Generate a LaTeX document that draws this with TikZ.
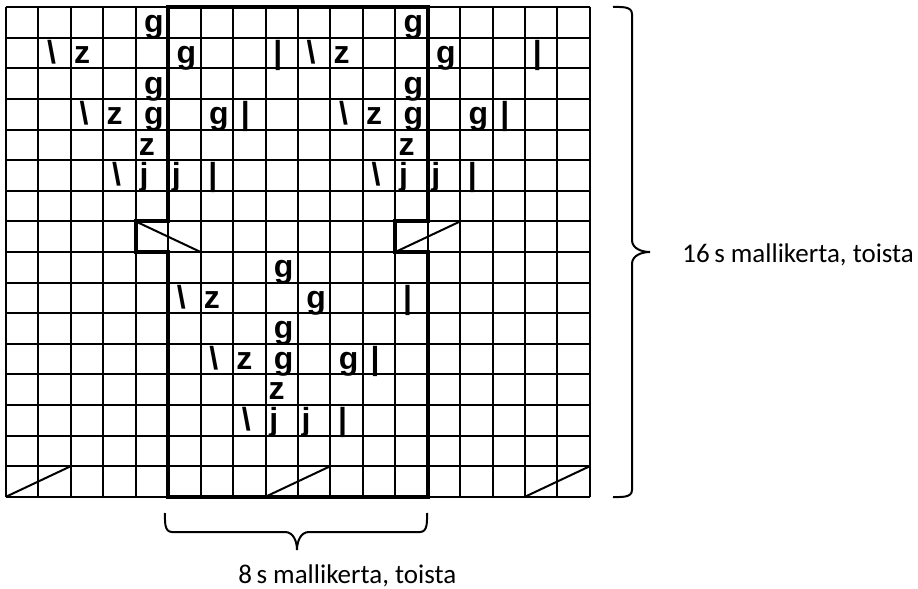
\documentclass[tikz,border=0pt]{standalone}
\usepackage{fontspec}
\setmainfont{Carlito}
\newfontfamily\chartfont{Liberation Sans}
\begin{document}
\begin{tikzpicture}[x=0.5pt,y=-0.5pt]
        \tikzstyle{chart_sym} = [inner sep=0pt,anchor=base,font=\chartfont\bfseries\fontsize{16}{16}\selectfont]
        \tikzstyle{repeat_label} = [inner sep=0pt,anchor=base west,font=\fontsize{13.5}{13.5}\selectfont]
        \tikzstyle{thin_line} = [line width=1pt]
        \tikzstyle{thick_line} = [line width=2pt,line join=miter]
        \tikzstyle{brace_line} = [line width=1pt]
        \useasboundingbox (0,0) rectangle (918,589);
        % chart, one unit = one stitch
        \begin{scope}[shift={(6,7.3)},xscale=32.44,yscale=30.59]
          \foreach \i in {0,...,18} \draw[thin_line] (\i,0) -- (\i,16);
          \foreach \j in {0,...,16} \draw[thin_line] (0,\j) -- (18,\j);
          % diagonal cells
          \draw[thin_line] (4,7) -- (6,8);
          \draw[thin_line] (12,8) -- (14,7);
          \foreach \k in {0,8,16} \draw[thin_line] (\k,16) -- (\k+2,15);
          % repeat outline
          \draw[thick_line] (5,0) -- (13,0) -- (13,7) -- (12,7) -- (12,8) -- (13,8)
            -- (13,16) -- (5,16) -- (5,8) -- (4,8) -- (4,7) -- (5,7) -- cycle;
          % symbols: column/row/glyph/shift
          \foreach \c/\r/\s/\d in {
              4/0/g/2, 12/0/g/2,
              1/1/\textbackslash/-3, 2/1/z/-5, 5/1/g/2, 8/1/\textbar/-4,
              9/1/\textbackslash/-3, 10/1/z/-5, 13/1/g/2, 16/1/\textbar/-4,
              4/2/g/2, 12/2/g/2,
              2/3/\textbackslash/-3, 3/3/z/-5, 4/3/g/2, 6/3/g/2, 7/3/\textbar/-4,
              10/3/\textbackslash/-3, 11/3/z/-5, 12/3/g/2, 14/3/g/2, 15/3/\textbar/-4,
              4/4/z/-5, 12/4/z/-5,
              3/5/\textbackslash/-3, 4/5/j/-8, 5/5/j/-8, 6/5/\textbar/-4,
              11/5/\textbackslash/-3, 12/5/j/-8, 13/5/j/-8, 14/5/\textbar/-4,
              8/8/g/2,
              5/9/\textbackslash/-3, 6/9/z/-5, 9/9/g/2, 12/9/\textbar/-4,
              8/10/g/2,
              6/11/\textbackslash/-3, 7/11/z/-5, 8/11/g/2, 10/11/g/2, 11/11/\textbar/-4,
              8/12/z/-5,
              7/13/\textbackslash/-3, 8/13/j/-8, 9/13/j/-8, 10/13/\textbar/-4}
            \node[chart_sym,xshift=\d*0.5pt,yshift=2.5pt] (sym-\c-\r) at (\c+0.5,\r+1) {\s};
        \end{scope}
        % braces
        \coordinate (rb_top) at (613,7);
        \coordinate (rb_tip) at (650,252);
        \coordinate (rb_bot) at (613,497);
        \draw[brace_line] (rb_top) to[out=0,in=90] (632,14) -- (632,240)
          to[out=-90,in=180] (rb_tip) to[out=180,in=90] (632,264) -- (632,490)
          to[out=-90,in=0] (rb_bot);
        \coordinate (bb_left) at (165,513);
        \coordinate (bb_tip) at (297,550);
        \coordinate (bb_right) at (427,513);
        \draw[brace_line] (bb_left) to[out=-90,in=180] (172,532) -- (285,532)
          to[out=0,in=90] (bb_tip) to[out=90,in=180] (309,532) -- (420,532)
          to[out=0,in=-90] (bb_right);
        \node[repeat_label] (rows_label) at (682,262) {16\,s mallikerta, toista};
        \node[repeat_label] (sts_label) at (238,583) {8\,s mallikerta, toista};
      \end{tikzpicture}
\end{document}
